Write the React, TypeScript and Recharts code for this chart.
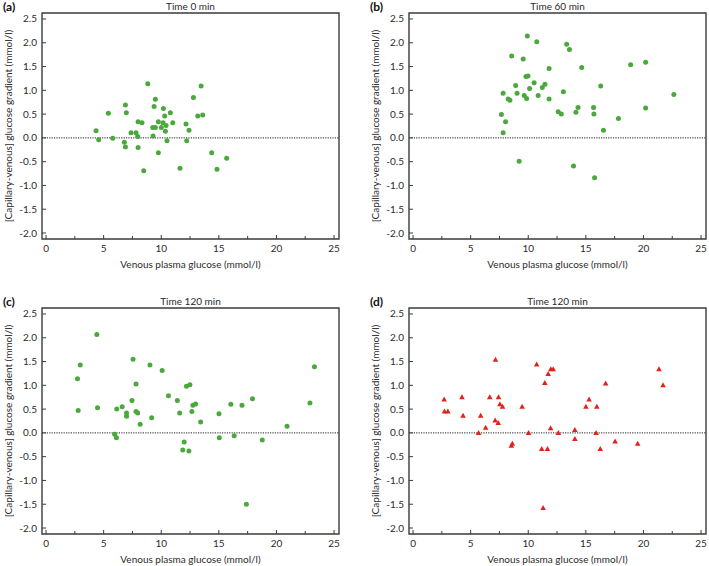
import { ScatterChart, Scatter, XAxis, YAxis, ReferenceLine, ReferenceArea } from 'recharts'

// Time 0 min
const t0Venous = [4.34, 4.57, 5.41, 5.79, 6.89, 6.97, 6.8, 6.89, 7.38, 7.81, 7.96, 7.99, 8.33, 7.99, 8.48, 8.83, 9.49, 9.38, 9.26, 9.49, 9.29, 9.75, 9.75, 10.01, 10.16, 10.19, 10.3, 10.42, 10.36, 10.5, 10.79, 11.0, 11.63, 12.15, 12.21, 12.41, 12.79, 13.17, 13.46, 13.6, 14.38, 14.84, 15.68]
const t0Gradient = [0.15, -0.04, 0.52, -0.01, 0.69, 0.53, -0.09, -0.19, 0.11, 0.11, 0.03, 0.34, 0.32, -0.2, -0.69, 1.14, 0.81, 0.66, 0.22, 0.22, 0.04, 0.34, -0.31, 0.22, 0.32, 0.62, 0.46, 0.26, 0.14, -0.06, 0.53, 0.32, -0.64, 0.29, -0.06, 0.16, 0.85, 0.46, 1.09, 0.48, -0.31, -0.66, -0.43]

// Time 60 min
const t60Venous = [7.67, 7.82, 8.03, 7.82, 8.26, 8.41, 8.56, 8.91, 9.03, 9.21, 9.56, 9.65, 9.8, 9.92, 9.98, 9.86, 10.12, 10.51, 10.74, 10.86, 11.22, 11.45, 11.81, 11.81, 12.6, 12.87, 13.05, 13.34, 13.58, 13.93, 14.14, 14.32, 14.64, 15.67, 15.7, 15.76, 16.29, 16.53, 17.83, 18.89, 20.19, 20.19, 22.64]
const t60Gradient = [0.49, 0.94, 0.34, 0.11, 0.82, 0.79, 1.72, 1.1, 0.94, -0.49, 1.66, 0.89, 1.29, 2.14, 1.3, 0.83, 1.04, 1.16, 2.02, 0.89, 1.06, 1.13, 1.46, 0.82, 0.55, 0.5, 0.97, 1.97, 1.86, -0.59, 0.54, 0.64, 1.48, 0.64, 0.5, -0.84, 1.09, 0.16, 0.41, 1.54, 1.59, 0.63, 0.91]

// Time 120 min (c)
const t120Venous = [2.73, 2.97, 2.79, 4.41, 4.47, 5.96, 6.11, 6.14, 6.61, 6.99, 6.99, 7.46, 7.55, 7.81, 7.81, 7.96, 8.17, 9.02, 9.17, 10.08, 10.63, 11.4, 11.6, 11.87, 11.99, 12.19, 12.49, 12.4, 12.66, 12.75, 12.98, 13.42, 15.01, 15.04, 16.04, 16.33, 17.01, 17.39, 17.92, 18.77, 20.92, 22.91, 23.3]
const t120Gradient = [1.14, 1.43, 0.47, 2.07, 0.53, -0.03, -0.1, 0.5, 0.55, 0.42, 0.35, 0.68, 1.55, 1.03, 0.45, 0.42, 0.18, 1.43, 0.32, 1.31, 0.78, 0.68, 0.42, -0.36, -0.19, 0.98, 1.01, -0.38, 0.45, 0.58, 0.61, 0.23, 0.4, -0.1, 0.6, -0.06, 0.58, -1.5, 0.72, -0.15, 0.14, 0.63, 1.39]

// Time 120 min (d)
const t120bVenous = [2.7, 2.73, 3.02, 4.25, 4.34, 5.69, 5.87, 6.3, 6.66, 7.13, 7.16, 7.39, 7.42, 7.54, 7.77, 8.53, 8.62, 9.47, 10.03, 10.73, 11.17, 11.44, 11.29, 11.67, 11.73, 11.94, 11.96, 12.17, 12.61, 14.05, 14.05, 15.01, 15.28, 15.89, 15.95, 16.25, 16.72, 17.54, 19.5, 21.35, 21.7]
const t120bGradient = [0.7, 0.45, 0.45, 0.75, 0.36, 0.0, 0.36, 0.11, 0.75, 0.26, 1.54, 0.21, 0.75, 0.6, 0.55, -0.27, -0.23, 0.55, 0.0, 1.44, -0.34, 1.05, -1.58, -0.34, 1.24, 0.1, 1.34, 1.34, 0.0, 0.06, -0.13, 0.55, 0.7, 0.0, 0.55, -0.34, 1.04, -0.18, -0.23, 1.34, 1.0]

const xTicks = [0, 2.5, 5, 7.5, 10, 12.5, 15, 17.5, 20, 22.5, 25]
const yTicks = [-2, -1.5, -1, -0.5, 0, 0.5, 1, 1.5, 2, 2.5]

const X_DOMAIN = [-0.35, 25.43]
const Y_DOMAIN = [-2.126, 2.626]

const W = 342
const H = 271
const PLOT_LEFT = 42
const PLOT_TOP = 13
const PLOT_BOTTOM = 239
const AXIS = '#3b3b3b'
const TEXT = '#2b2b2b'
const FONT = 'Lato, "Open Sans", sans-serif'
const GREEN = '#4aa83c'
const RED = '#e3231b'

const toPoints = (xs: number[], ys: number[]) => xs.map((x, i) => ({ x, y: ys[i] }))

const XTick = ({ x, payload }: any) => {
  const major = payload.value % 5 === 0
  return (
    <g>
      <line x1={x} x2={x} y1={PLOT_BOTTOM} y2={PLOT_BOTTOM - (major ? 4 : 3)} stroke={AXIS} strokeWidth={1} />
      {major && (
        <text x={x} y={PLOT_BOTTOM + 13} textAnchor="middle" fontSize={10} fill={TEXT} fontFamily={FONT}>
          {payload.value}
        </text>
      )}
    </g>
  )
}

const YTick = ({ y, payload }: any) => (
  <g>
    <line x1={PLOT_LEFT} x2={PLOT_LEFT + 4} y1={y} y2={y} stroke={AXIS} strokeWidth={1} />
    <text x={PLOT_LEFT - 5} y={y + 3.5} textAnchor="end" fontSize={10} fill={TEXT} fontFamily={FONT}>
      {payload.value.toFixed(1)}
    </text>
  </g>
)

const Dot = ({ cx, cy, fill }: any) => <circle cx={cx} cy={cy} r={2.5} fill={fill} />

const Tri = ({ cx, cy, fill }: any) => (
  <polygon points={`${cx},${cy - 3} ${cx - 2.8},${cy + 2} ${cx + 2.8},${cy + 2}`} fill={fill} />
)

interface PanelProps {
  letter: string
  title: string
  data: { x: number; y: number }[]
  color: string
  triangle?: boolean
  left: number
  top: number
}

function Panel({ letter, title, data, color, triangle, left, top }: PanelProps) {
  return (
    <div style={{ position: 'absolute', left, top, width: W, height: H }}>
      <ScatterChart width={W} height={H} margin={{ top: PLOT_TOP, right: 3, left: 0, bottom: 0 }}>
        <XAxis
          type="number"
          dataKey="x"
          domain={X_DOMAIN}
          ticks={xTicks}
          allowDataOverflow
          axisLine={false}
          tickLine={false}
          height={H - PLOT_BOTTOM}
          tick={<XTick />}
          interval={0}
          label={{
            value: 'Venous plasma glucose (mmol/l)',
            position: 'insideBottom',
            offset: 3,
            fontSize: 10,
            fill: TEXT,
            fontFamily: FONT,
          }}
        />
        <YAxis
          type="number"
          dataKey="y"
          domain={Y_DOMAIN}
          ticks={yTicks}
          allowDataOverflow
          axisLine={false}
          tickLine={false}
          width={PLOT_LEFT}
          tick={<YTick />}
          interval={0}
          label={{
            value: '[Capillary-venous] glucose gradient (mmol/l)',
            angle: -90,
            position: 'insideLeft',
            offset: 0,
            dx: 8,
            style: { textAnchor: 'middle' },
            fontSize: 10,
            fill: TEXT,
            fontFamily: FONT,
          }}
        />
        <ReferenceLine y={0} stroke="#1e1e1e" strokeDasharray="1.2 1.2" strokeWidth={1} />
        <ReferenceArea
          x1={X_DOMAIN[0]}
          x2={X_DOMAIN[1]}
          y1={Y_DOMAIN[0]}
          y2={Y_DOMAIN[1]}
          fill="none"
          fillOpacity={0}
          stroke={AXIS}
          strokeWidth={1.4}
        />
        <Scatter
          data={data}
          fill={color}
          isAnimationActive={false}
          shape={triangle ? <Tri /> : <Dot />}
        />
      </ScatterChart>
      <div
        style={{
          position: 'absolute',
          left: 3,
          top: 0,
          lineHeight: '13px',
          fontFamily: FONT,
          fontWeight: 'bold',
          fontSize: 12,
          color: '#111',
        }}
      >
        {letter}
      </div>
      <div
        style={{
          position: 'absolute',
          left: PLOT_LEFT,
          width: W - PLOT_LEFT - 3,
          top: 0,
          lineHeight: '12px',
          textAlign: 'center',
          fontFamily: FONT,
          fontSize: 10,
          color: TEXT,
        }}
      >
        {title}
      </div>
    </div>
  )
}

export default function App() {
  return (
    <div style={{ position: 'absolute', left: 0, top: 0, width: 709, height: 566, background: '#fff' }}>
      <Panel letter="(a)" title="Time 0 min" data={toPoints(t0Venous, t0Gradient)} color={GREEN} left={0} top={0} />
      <Panel letter="(b)" title="Time 60 min" data={toPoints(t60Venous, t60Gradient)} color={GREEN} left={367} top={0} />
      <Panel letter="(c)" title="Time 120 min" data={toPoints(t120Venous, t120Gradient)} color={GREEN} left={0} top={295} />
      <Panel letter="(d)" title="Time 120 min" data={toPoints(t120bVenous, t120bGradient)} color={RED} triangle left={367} top={295} />
    </div>
  )
}
